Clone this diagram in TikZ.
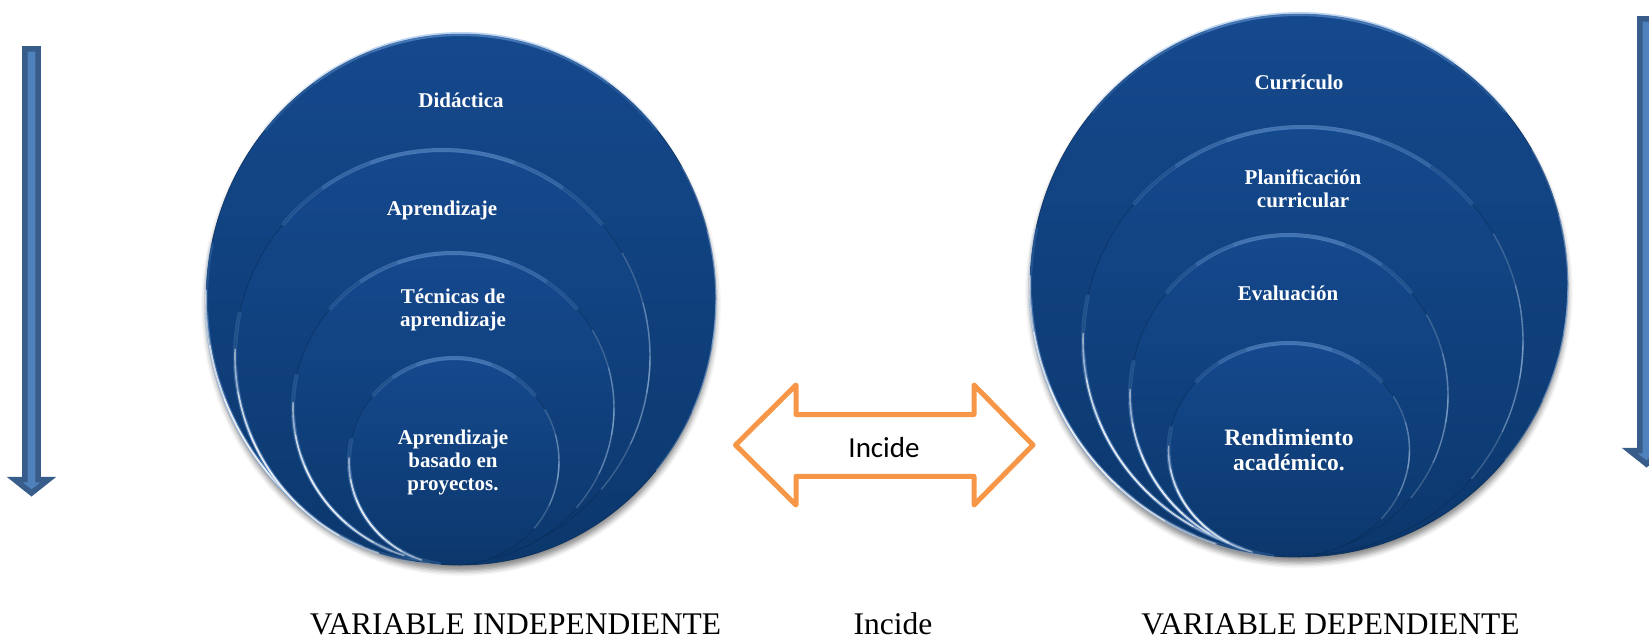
\documentclass[tikz,border=0pt]{standalone}
\usepackage{fontspec}
\setmainfont{Liberation Serif}
\newfontfamily\calibrifont{Carlito}
\usetikzlibrary{shadows.blur}

\definecolor{discblue}{RGB}{21,73,141}
\definecolor{discdark}{RGB}{11,55,108}
\definecolor{rimblue}{RGB}{120,170,230}
\definecolor{arrowfill}{RGB}{79,129,189}
\definecolor{arrowline}{RGB}{56,93,138}
\definecolor{incideorange}{RGB}{247,150,70}

% glossy disc: centre x, centre y, x radius, y radius
\newcommand{\glossydisc}[4]{%
  \shade[discfill] (#1,#2) ellipse [x radius=#3, y radius=#4];
  \draw[rimdark] (#1,#2) ellipse [x radius=#3, y radius=#4];
  \foreach \s in {0,15,30} {
    \draw[rimglow] (#1,#2) ++(-40-\s:#3 and #4) arc [start angle=-40-\s, end angle=-140+\s, x radius=#3, y radius=#4];
    \draw[rimglow] (#1,#2) ++(192-\s:#3 and #4) arc [start angle=192-\s, end angle=98+\s, x radius=#3, y radius=#4];
    \draw[rimside] (#1,#2) ++(40-\s:#3 and #4) arc [start angle=40-\s, end angle=-30+\s, x radius=#3, y radius=#4];
  }
  \foreach \s in {0,12,24} {
    \draw[rimbright] (#1,#2) ++(182-\s:#3 and #4) arc [start angle=182-\s, end angle=108+\s, x radius=#3, y radius=#4];
  }
}

\begin{document}
\begin{tikzpicture}[x=1pt, y=-1pt]

\tikzstyle{discfill}=[top color=discblue, bottom color=discdark];
\tikzstyle{rimdark}=[draw=discdark!70!black, line width=0.8, opacity=0.45];
\tikzstyle{rimglow}=[draw=rimblue, line width=4, opacity=0.2, line cap=round];
\tikzstyle{rimbright}=[draw=white, line width=1.6, opacity=0.5, line cap=round];
\tikzstyle{rimside}=[draw=rimblue!60!white, line width=1.4, opacity=0.3, line cap=round];
\tikzstyle{discshadow}=[blur shadow={shadow xshift=0pt, shadow yshift=-6pt, shadow opacity=45, shadow blur radius=5pt}];
\tikzstyle{lbl}=[text=white, font=\fontsize{21}{23}\selectfont\bfseries, align=center, inner sep=0pt];
\tikzstyle{var}=[font=\fontsize{31.5}{34}\selectfont, inner sep=0pt, anchor=base];
\tikzstyle{downarrow}=[fill=arrowfill, draw=arrowline, line width=5.5, line join=miter];
\tikzstyle{incidearrow}=[draw=incideorange, line width=5, line join=round];

\useasboundingbox (0,0) rectangle (1649,638);
\clip (0,0) rectangle (1649,638);

% left arrow
\draw[downarrow] (24.8,48.8) -- (38.2,48.8) -- (38.2,479.5) -- (48.5,479.5) -- (31.5,493) -- (14.5,479.5) -- (24.8,479.5) -- cycle;
% right arrow
\draw[downarrow] (1639.8,18.8) -- (1653.2,18.8) -- (1653.2,450.5) -- (1663.5,450.5) -- (1646.5,464) -- (1629.5,450.5) -- (1639.8,450.5) -- cycle;

% independent variable
\path[discshadow, fill=discdark] (461,299.5) ellipse [x radius=255, y radius=265.5];
\glossydisc{461}{299.5}{255}{265.5}
\glossydisc{442.5}{356.5}{207.5}{206.5}
\glossydisc{453.5}{408}{160.5}{155}
\glossydisc{454}{461.5}{105}{103.5}

\node[lbl] (didactica) at (461,100) {Didáctica};
\node[lbl] (aprendizaje) at (442,210) {Aprendizaje};
\node[lbl] (tecnicas) at (453,310) {Técnicas de\\aprendizaje};
\node[lbl] (abp) at (453,462) {Aprendizaje\\basado en\\proyectos.};

% dependent variable
\path[discshadow, fill=discdark] (1299,285.5) ellipse [x radius=269, y radius=271.5];
\glossydisc{1299}{285.5}{269}{271.5}
\glossydisc{1303}{341}{220}{214}
\glossydisc{1289}{395}{159}{160}
\glossydisc{1289}{450}{120.5}{107}

\node[lbl] (curriculo) at (1299,82) {Currículo};
\node[lbl] (planificacion) at (1303,189) {Planificación\\curricular};
\node[lbl] (evaluacion) at (1288,293) {Evaluación};
\node[lbl, font=\fontsize{23.5}{25}\selectfont\bfseries] (rendimiento) at (1289,450) {Rendimiento\\académico.};

% incide
\draw[incidearrow] (735.5,445) -- (796,385) -- (796,414.5) -- (974,414.5) -- (974,385) -- (1033,445) -- (974,505) -- (974,476.3) -- (796,476.3) -- (796,505) -- cycle;
\node[font=\calibrifont\fontsize{29}{34}\selectfont, anchor=base, inner sep=0pt] (incide) at (884,457) {Incide};

\node[var] (vi) at (515.5,634) {VARIABLE INDEPENDIENTE};
\node[var] (inc) at (893,634) {Incide};
\node[var] (vd) at (1330.5,634) {VARIABLE DEPENDIENTE};
\end{tikzpicture}
\end{document}
